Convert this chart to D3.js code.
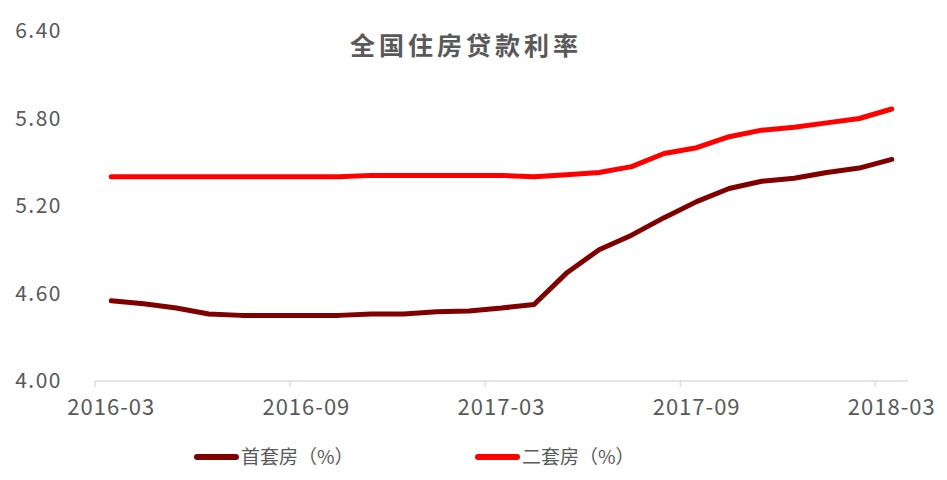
<!DOCTYPE html>
<html>
<head>
<meta charset="utf-8">
<script src="https://cdn.jsdelivr.net/npm/d3@7"></script>
<style>
  html, body { margin: 0; padding: 0; background: #fff; }
  svg { display: block; }
  text { font-family: "Noto Sans CJK SC", "Noto Sans", sans-serif; fill: #595959; }
</style>
</head>
<body>
<svg id="chart" width="947" height="480"></svg>
<script>
const categories = ["2016-03","2016-04","2016-05","2016-06","2016-07","2016-08","2016-09","2016-10","2016-11","2016-12",
  "2017-01","2017-02","2017-03","2017-04","2017-05","2017-06","2017-07","2017-08","2017-09","2017-10",
  "2017-11","2017-12","2018-01","2018-02","2018-03"];
const firstHome = [4.55,4.53,4.50,4.46,4.45,4.45,4.45,4.45,4.46,4.46,4.475,4.48,4.50,4.525,4.74,4.90,5.00,5.12,5.23,5.32,5.37,5.39,5.43,5.46,5.52];
const secondHome = [5.40,5.40,5.40,5.40,5.40,5.40,5.40,5.40,5.41,5.41,5.41,5.41,5.41,5.40,5.415,5.43,5.47,5.56,5.60,5.675,5.72,5.74,5.77,5.80,5.865];
const yTicks = [4.00,4.60,5.20,5.80,6.40];
const xTickLabels = ["2016-03","2016-09","2017-03","2017-09","2018-03"];
const seriesNames = ["首套房（%）","二套房（%）"];
const title = "全国住房贷款利率";

const svg = d3.select("#chart");
const x = d3.scaleBand().domain(categories).range([95, 908]).padding(0);
const y = d3.scaleLinear().domain([4.0, 6.4]).range([381, 31]);
const cx = c => x(c) + x.bandwidth() / 2;

// Title
svg.append("text").attr("x", 466).attr("y", 55).attr("text-anchor", "middle")
  .attr("font-size", 25).attr("font-weight", 600).attr("letter-spacing", 4).text(title);

// Y axis labels
const yAxis = d3.axisLeft(y).tickValues(yTicks).tickFormat(d3.format(".2f")).tickSize(0).tickPadding(0);
const gy = svg.append("g").attr("transform", "translate(62,0)").call(yAxis);
gy.select(".domain").remove();
gy.selectAll("text").attr("font-size", 21).attr("letter-spacing", 1.5).style("font-family", "'Noto Sans CJK SC'").attr("fill", "#595959");

// X axis
const gx = svg.append("g").attr("transform", "translate(0,381)");
gx.append("line").attr("x1", x.range()[0]).attr("x2", x.range()[1]).attr("y1", 0).attr("y2", 0)
  .attr("stroke", "#d9dde6").attr("stroke-width", 1.5);
gx.selectAll("line.tick").data(xTickLabels).enter().append("line").attr("class", "tick")
  .attr("x1", d => x(d)).attr("x2", d => x(d)).attr("y1", 0).attr("y2", 6)
  .attr("stroke", "#d9dde6").attr("stroke-width", 1.5);
const xAxis = d3.axisBottom(x).tickValues(xTickLabels).tickSize(0).tickPadding(0);
const gxl = svg.append("g").attr("transform", "translate(0,415)").call(xAxis);
gxl.select(".domain").remove();
gxl.selectAll("text").attr("font-size", 22).attr("letter-spacing", 1).style("font-family", "'Noto Sans CJK SC'")
  .attr("dy", 0).attr("fill", "#595959");

// Lines
const line = d3.line().x((d, i) => cx(categories[i])).y(d => y(d)).curve(d3.curveLinear);
svg.append("path").datum(secondHome).attr("d", line).attr("fill", "none")
  .attr("stroke", "#ff0000").attr("stroke-width", 5).attr("stroke-linecap", "round").attr("stroke-linejoin", "round");
svg.append("path").datum(firstHome).attr("d", line).attr("fill", "none")
  .attr("stroke", "#800000").attr("stroke-width", 5).attr("stroke-linecap", "round").attr("stroke-linejoin", "round");

// Legend
const legend = [{name: seriesNames[0], color: "#800000", x: 195}, {name: seriesNames[1], color: "#ff0000", x: 476}];
const lg = svg.append("g");
legend.forEach(l => {
  lg.append("line").attr("x1", l.x + 2).attr("x2", l.x + 41).attr("y1", 457).attr("y2", 457)
    .attr("stroke", l.color).attr("stroke-width", 6).attr("stroke-linecap", "round");
  lg.append("text").attr("x", l.x + 46).attr("y", 464).attr("font-size", 19).text(l.name);
});
</script>
</body>
</html>
